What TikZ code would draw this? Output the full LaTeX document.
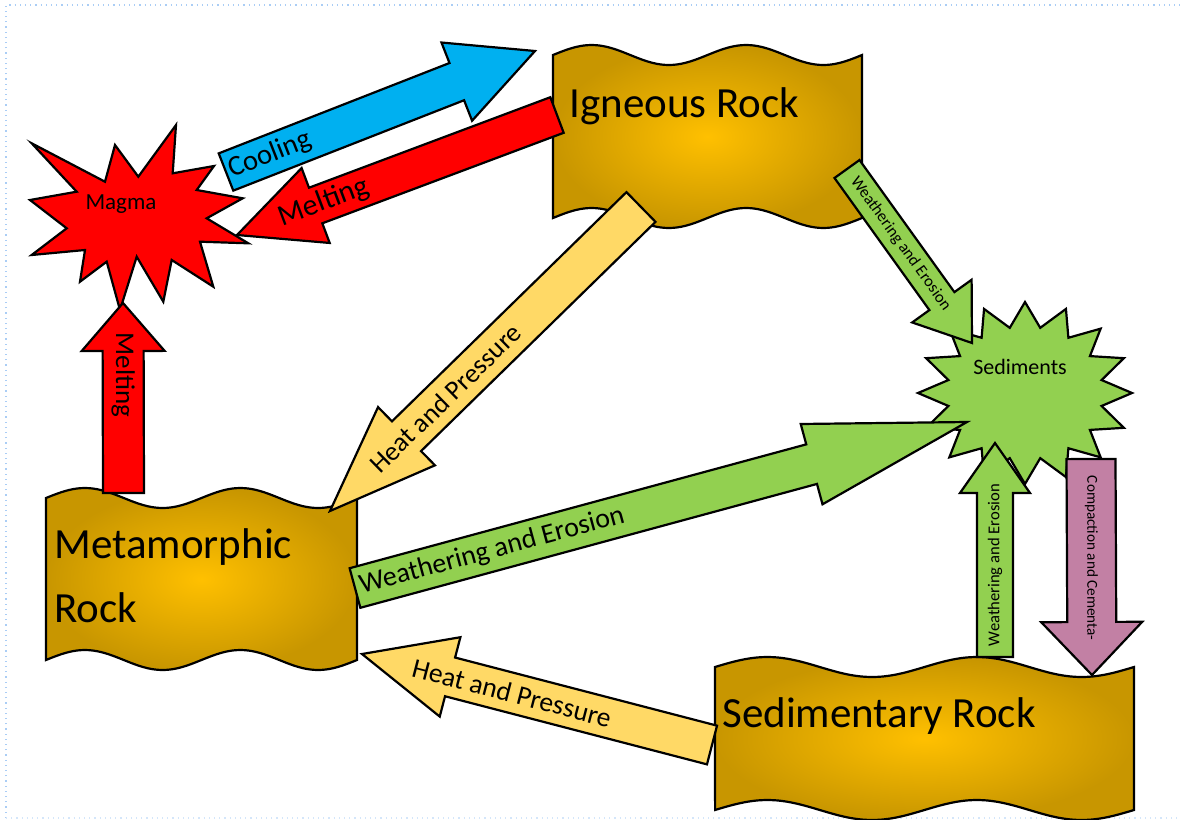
\documentclass[tikz,border=0pt]{standalone}
\usepackage{fontspec}
\setmainfont{Carlito}
\usetikzlibrary{calc}

\definecolor{rockgold}{RGB}{255,192,0}
\definecolor{rockdark}{RGB}{200,150,0}
\definecolor{coolblue}{RGB}{0,176,240}
\definecolor{meltred}{RGB}{255,0,0}
\definecolor{heatyellow}{RGB}{255,217,102}
\definecolor{erosiongreen}{RGB}{146,208,80}
\definecolor{cementmauve}{RGB}{194,128,164}
\definecolor{pageblue}{RGB}{170,205,245}

\tikzset{
	>=stealth
}

% wavy block: name, left, right, top, bottom
\newcommand{\rockblock}[5]{%
	\draw[rock] plot[domain=0:1, samples=41, smooth] ({#2+(#3-#2)*\x}, {#4-10*sin(720*\x)})
		-- plot[domain=0:1, samples=41, smooth] ({#3-(#3-#2)*\x}, {#5-10*sin(720*(1-\x))}) -- cycle;
	\coordinate (#1) at ({(#2+#3)/2}, {(#4+#5)/2});
}

% block arrow: fill, tail, tip, half shaft, half head, head length, label options, label
\newcommand{\blockarrow}[8]{%
	\path (#2) coordinate (ba-s) ($(#3)!#6*0.5pt!(#2)$) coordinate (ba-n);
	\draw[blockarrow, fill=#1] ($(ba-s)!#4*0.5pt!90:(ba-n)$) -- ($(ba-n)!#4*0.5pt!-90:(ba-s)$)
		-- ($(ba-n)!#5*0.5pt!-90:(ba-s)$) -- (#3) -- ($(ba-n)!#5*0.5pt!90:(ba-s)$)
		-- ($(ba-n)!#4*0.5pt!90:(ba-s)$) -- ($(ba-s)!#4*0.5pt!-90:(ba-n)$) -- cycle;
	\path (ba-s) -- (ba-n) node[lbl, #7] {#8};
}

\begin{document}
\begin{tikzpicture}[
x = 0.5pt,
y = -0.5pt,
rock/.style = {
	draw,
	line width = 1.1pt,
	inner color = rockgold,
	outer color = rockdark
},
blockarrow/.style = {
	draw,
	line width = 1.1pt,
	line join = miter
},
starshape/.style = {
	draw,
	line width = 1.1pt
},
rocklabel/.style = {
	inner sep = 0pt,
	align = left,
	font = \fontsize{21.5}{32}\selectfont
},
lbl/.style = {
	inner sep = 0pt,
	text = black
}
]
\useasboundingbox (0,0) rectangle (1180,820);

\draw[pageblue, dotted, line width=0.6pt] (6,818) -- (6,5) -- (1180,5);
\draw[pageblue!50, dotted, line width=0.6pt] (6,818) -- (1180,818);

\rockblock{ign}{553}{862}{55}{218}
\rockblock{met}{46}{357}{498}{660}
\rockblock{sed}{715}{1134}{667}{810}

\node[rocklabel, anchor=base west] (igneous) at (569,117) {Igneous Rock};
\node[rocklabel, anchor=base west] (metamorphic) at (54,622) {Metamorphic\\Rock};
\node[rocklabel, anchor=base west] (sedimentary) at (722,727) {Sedimentary Rock};

% magma burst
\draw[starshape, fill=meltred] (31.7,143.3) -- (105,181.7) -- (115,145) -- (138.3,176.7)
	-- (176,125) -- (172.7,173.3) -- (214,166) -- (196.7,190) -- (242.7,198.3)
	-- (206.7,218.3) -- (248.3,243.3) -- (200,241.7) -- (213.3,286.7) -- (171.7,260)
	-- (163.3,301.7) -- (136.7,256.7) -- (120,310) -- (106.7,261.7) -- (80,281.7)
	-- (85,250) -- (31.7,255) -- (66.7,228.3) -- (30,200) -- (76.7,191.7) -- cycle;
\node[lbl, font=\fontsize{11.5}{13}\selectfont] (magma) at (121,204) {Magma};

% sediments star
\draw[starshape, fill=erosiongreen] (1025,302) \foreach \k in {1,...,31} {
	-- ({1025+107*(1-0.27*mod(\k,2))*cos(90+11.25*\k)}, {393-91*(1-0.27*mod(\k,2))*sin(90+11.25*\k)}) } -- cycle;
\node[lbl, font=\fontsize{11}{13}\selectfont] (sediments) at (1020,367) {Sediments};

\coordinate (cool-a) at (226,172);
\coordinate (cool-b) at (535,51);
\coordinate (melt-a) at (557,115);
\coordinate (melt-b) at (237,235);
\coordinate (remelt-a) at (123.5,493);
\coordinate (remelt-b) at (123,303);
\coordinate (heat-a) at (641,207);
\coordinate (heat-b) at (330,511);
\coordinate (erode-a) at (355,588);
\coordinate (erode-b) at (967,422);
\coordinate (weather-a) at (847,169);
\coordinate (weather-b) at (972,343);
\coordinate (uplift-a) at (995,657);
\coordinate (uplift-b) at (995,443);
\coordinate (cement-a) at (1091,459);
\coordinate (cement-b) at (1092,675);
\coordinate (bury-a) at (712,745);
\coordinate (bury-b) at (362,654);

\blockarrow{coolblue}{cool-a}{cool-b}{20}{42}{84}{sloped, pos=0.19, font=\fontsize{14.3}{16}\selectfont}{Cooling}
\blockarrow{meltred}{melt-a}{melt-b}{19}{40}{84}{sloped, pos=0.965, font=\fontsize{15}{17}\selectfont}{Melting}
\blockarrow{meltred}{remelt-a}{remelt-b}{20.5}{41.5}{48}{pos=0.83, rotate=-90, font=\fontsize{13.5}{15}\selectfont}{Melting}
\blockarrow{heatyellow}{heat-a}{heat-b}{20.8}{40.7}{107}{sloped, pos=0.835, font=\fontsize{13.5}{15}\selectfont}{Heat and Pressure}
\blockarrow{erosiongreen}{erode-a}{erode-b}{20.5}{41.6}{161}{sloped, pos=0.30, font=\fontsize{14}{16}\selectfont}{Weathering and Erosion}
\blockarrow{erosiongreen}{weather-a}{weather-b}{15.4}{36.6}{51.6}{sloped, pos=0.565, font=\fontsize{8.2}{9}\selectfont}{Weathering and Erosion}
\blockarrow{erosiongreen}{uplift-a}{uplift-b}{18}{35}{50}{pos=0.56, rotate=90, font=\fontsize{8.3}{9}\selectfont}{Weathering and Erosion}
\blockarrow{cementmauve}{cement-a}{cement-b}{24.5}{50.5}{53}{pos=0.56, rotate=-90, xshift=4pt, font=\fontsize{7.6}{9}\selectfont}{Compaction and Cementa-}
\blockarrow{heatyellow}{bury-a}{bury-b}{20}{41}{91}{sloped, pos=0.764, font=\fontsize{13.8}{15}\selectfont}{Heat and Pressure}

\end{tikzpicture}
\end{document}
